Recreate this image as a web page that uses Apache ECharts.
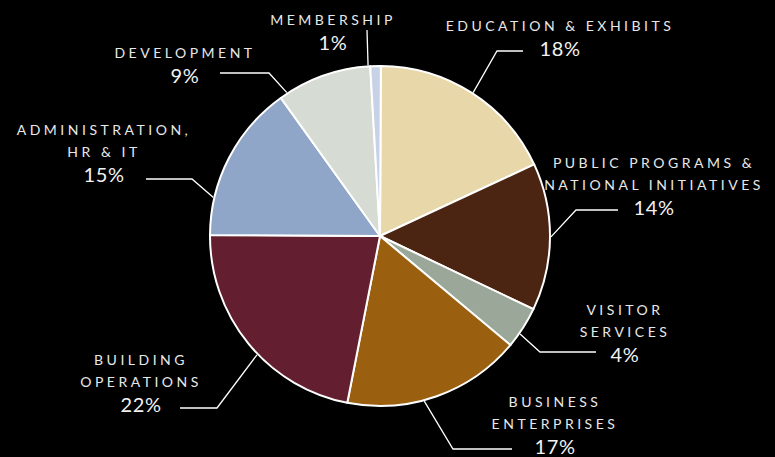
<!DOCTYPE html>
<html>
<head>
<meta charset="utf-8">
<script src="https://cdn.jsdelivr.net/npm/echarts@6/dist/echarts.min.js"></script>
<style>
html,body{margin:0;padding:0;background:#000;}
#chart{width:775px;height:457px;}
#chart svg text[style*="14px"], #chart svg text[font-size="14"], #chart svg text[font-size="14px"]{letter-spacing:3.5px;}
#chart svg text[style*="20px"], #chart svg text[font-size="20"], #chart svg text[font-size="20px"]{letter-spacing:0.6px;}
</style>
</head>
<body>
<div id="chart"></div>
<script>
// Data
const categories = [
  'EDUCATION & EXHIBITS',
  'PUBLIC PROGRAMS &\nNATIONAL INITIATIVES',
  'VISITOR\nSERVICES',
  'BUSINESS\nENTERPRISES',
  'BUILDING\nOPERATIONS',
  'ADMINISTRATION,\nHR & IT',
  'DEVELOPMENT',
  'MEMBERSHIP'
];
const shares = [18, 14, 4, 17, 22, 15, 9, 1];
const colors = ['#E8D7A8', '#4B2412', '#9BA899', '#9B5F10', '#631F2F', '#8FA6C9', '#D6DCD4', '#C8D2E6'];

// Layout (label placement and leader lines)
const CX = 380, CY = 236, R = 170;
const labelPos = [   // [centre x, top y]
  [560, 14], [654, 151], [625, 298], [555, 390],
  [141, 348], [104, 118], [185, 41], [333, 8]
];
const anchorAngle = [33, 90.3, 125, 165, 226, 283, 327, 356];
const elbows = [
  [[497, 51], [523, 51]],
  [[576, 210], [618, 210]],
  [[540, 352], [596, 352]],
  [[453, 449], [512, 449]],
  [[217, 408], [180, 408]],
  [[192, 179], [146, 179]],
  [[269, 73], [220, 73]],
  [[367, 30], [367, 30]]
];

const chart = echarts.init(document.getElementById('chart'), null, {renderer: 'svg'});
chart.setOption({
  backgroundColor: '#000',
  animation: false,
  series: [{
    type: 'pie',
    center: [CX, CY],
    radius: R,
    startAngle: 89.7,
    clockwise: true,
    avoidLabelOverlap: false,
    data: categories.map((c, i) => ({name: c, value: shares[i], itemStyle: {color: colors[i]}})),
    itemStyle: {borderColor: '#ffffff', borderWidth: 2},
    emphasis: {disabled: true},
    label: {
      show: true,
      position: 'outside',
      color: '#F2F2F2',
      formatter: p => p.name.split('\n').map(s => '{n|' + s + '}').join('\n') + '\n{p|' + p.value + '%}',
      rich: {
        n: {fontFamily: 'Lato', fontSize: 14, color: '#E8E8E8', lineHeight: 22, align: 'center'},
        p: {fontFamily: 'Lato', fontSize: 20, color: '#F2F2F2', lineHeight: 24, align: 'center'}
      }
    },
    labelLine: {show: true, lineStyle: {color: '#ffffff', width: 1.3}},
    labelLayout: function (params) {
      const i = params.dataIndex;
      const a = anchorAngle[i] * Math.PI / 180;
      const r = R + 1;
      const start = [CX + r * Math.sin(a), CY - r * Math.cos(a)];
      return {
        x: labelPos[i][0],
        y: labelPos[i][1],
        align: 'center',
        verticalAlign: 'top',
        labelLinePoints: [start, elbows[i][0], elbows[i][1]]
      };
    }
  }]
});
</script>
</body>
</html>
